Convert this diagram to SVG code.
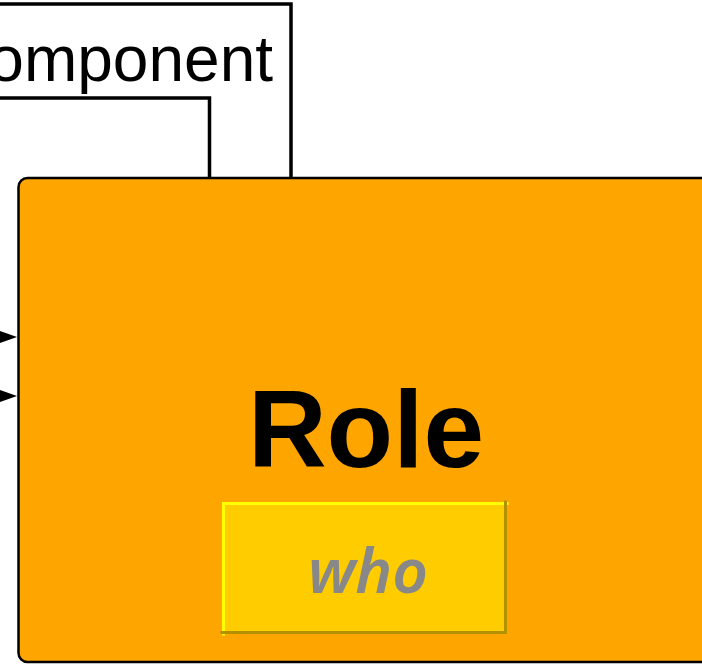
<svg xmlns="http://www.w3.org/2000/svg" width="702" height="664" viewBox="0 0 702 664">
  <style>
    .conn { fill: none; stroke: #000; stroke-width: 3.5; }
    .label { font-family: "Liberation Sans", Arial, sans-serif; fill: #000; }
  </style>
  <rect width="702" height="664" fill="#fff"/>
  <g id="connectors">
    <path class="conn" d="M-20,4 L291,4 L291,178"/>
    <path class="conn" d="M-20,98 L209.5,98 L209.5,178"/>
    <path d="M-40,337 L10,337" stroke="#000" stroke-width="2"/>
    <path d="M-40,396 L10,396" stroke="#000" stroke-width="2"/>
    <path d="M-6,329 L17,337 L-6,345 Z" fill="#000"/>
    <path d="M-6,388 L17,396 L-6,404 Z" fill="#000"/>
  </g>
  <g id="component-label">
    <text class="label" x="273" y="81" font-size="64" text-anchor="end">Component</text>
  </g>
  <g id="role">
    <rect x="18.5" y="178" width="720" height="484" rx="9" ry="9" fill="#FFA500" stroke="#000" stroke-width="2.5"/>
    <text class="label" x="366" y="467" font-size="109" font-weight="bold" text-anchor="middle">Role</text>
    <g id="who">
      <rect x="222" y="502" width="285" height="132" fill="#FFCC00"/>
      <path d="M222,634 L222,502 L507,502" fill="none" stroke="#FFFF00" stroke-width="3" transform="translate(1.5,1.5)"/>
      <path d="M222,634 L507,634 L507,502" fill="none" stroke="#B39000" stroke-width="3" transform="translate(-1.5,-1.5)"/>
      <text x="368" y="593" font-family="'Noto Sans', 'Open Sans', sans-serif" font-size="62" font-weight="600" font-style="italic" fill="#888888" text-anchor="middle">who</text>
    </g>
  </g>
</svg>
